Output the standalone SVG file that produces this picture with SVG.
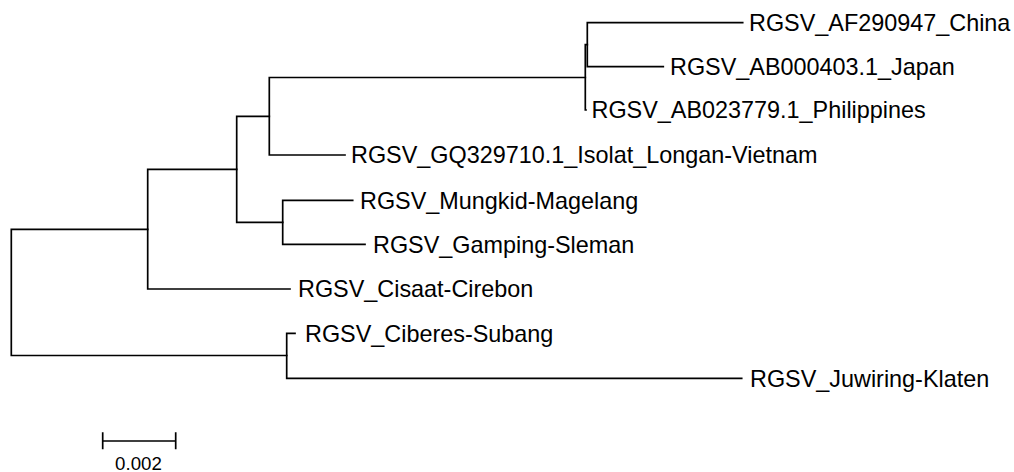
<svg xmlns="http://www.w3.org/2000/svg" width="1014" height="472" viewBox="0 0 1014 472">
<style>
.br{fill:none;stroke:#000;stroke-width:1.7;stroke-linecap:square}
.lb{font-family:"Liberation Sans",Arial,sans-serif;font-size:23.4px;fill:#000}
.sc{font-family:"Liberation Sans",Arial,sans-serif;font-size:18.7px;fill:#000;text-anchor:middle}
</style>
<rect width="1014" height="472" fill="#fff"/>
<g id="connectors" class="br">
<path d="M147.7,229.3H11.3V355.5H286.7"/>
<path d="M236.7,169.3H147.7V289H290"/>
<path d="M269.3,116.3H236.7V222.3H282.7"/>
<path d="M585.3,77.5H269.3V155H345"/>
<path d="M587.3,44.7H585.3V110H586"/>
<path d="M742.7,22.7H587.3V66.7H663.3"/>
<path d="M352.7,200.3H282.7V244.3H365"/>
<path d="M295,333.3H286.7V378.3H741.7"/>
</g>
<g id="leaf-china"><text class="lb" x="749" y="30.9">RGSV_AF290947_China</text></g>
<g id="leaf-japan"><text class="lb" x="670" y="74.9">RGSV_AB000403.1_Japan</text></g>
<g id="leaf-philippines"><text class="lb" x="591.5" y="118.2">RGSV_AB023779.1_Philippines</text></g>
<g id="leaf-vietnam"><text class="lb" x="351" y="163">RGSV_GQ329710.1_Isolat_Longan-Vietnam</text></g>
<g id="leaf-mungkid"><text class="lb" x="360" y="208.5">RGSV_Mungkid-Magelang</text></g>
<g id="leaf-gamping"><text class="lb" x="373" y="252.5">RGSV_Gamping-Sleman</text></g>
<g id="leaf-cisaat"><text class="lb" x="298" y="297.2">RGSV_Cisaat-Cirebon</text></g>
<g id="leaf-ciberes"><text class="lb" x="305" y="341.5">RGSV_Ciberes-Subang</text></g>
<g id="leaf-juwiring"><text class="lb" x="750" y="386.5">RGSV_Juwiring-Klaten</text></g>
<g id="scale-bar">
<path class="br" d="M102.7,441H175.7M102.7,433V448.3M175.7,433V448.3"/>
<text class="sc" x="138.5" y="470">0.002</text>
</g>
</svg>
